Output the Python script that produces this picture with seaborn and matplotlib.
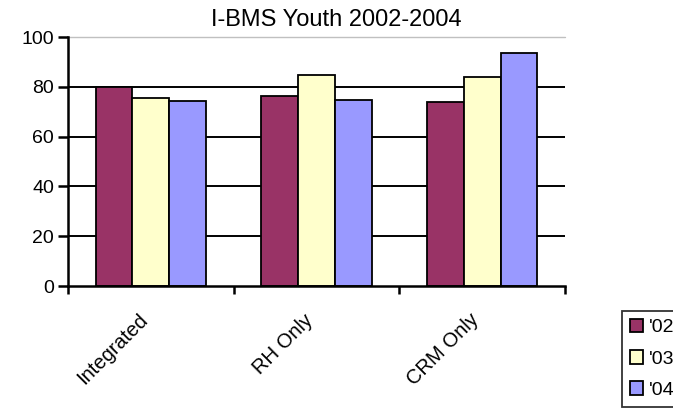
import matplotlib
matplotlib.use("Agg")
import matplotlib.pyplot as plt
import seaborn as sns
import pandas as pd

# Data
programs = ["Integrated", "RH Only", "CRM Only"]
years = ["'02", "'03", "'04"]
values_02 = [80.0, 76.3, 73.7]
values_03 = [75.7, 84.7, 84.0]
values_04 = [74.4, 74.8, 93.5]
y_ticks = [0, 20, 40, 60, 80, 100]
title = "I-BMS Youth 2002-2004"
colors = ["#993366", "#FFFFCC", "#9999FF"]

df = pd.DataFrame({
    "program": programs * 3,
    "year": [years[0]] * 3 + [years[1]] * 3 + [years[2]] * 3,
    "value": values_02 + values_03 + values_04,
})

sns.set_style("white")
plt.rcParams["font.family"] = ["Liberation Sans", "DejaVu Sans"]
plt.rcParams["text.color"] = "black"
plt.rcParams["xtick.color"] = "black"
plt.rcParams["ytick.color"] = "black"

fig = plt.figure(figsize=(6.73, 4.08), dpi=100)
ax = fig.add_axes([0.101, 0.299, 0.7385, 0.6103])

sns.barplot(data=df, x="program", y="value", hue="year", order=programs,
            hue_order=years, palette=colors, width=0.665, saturation=1,
            edgecolor="black", linewidth=1.3, errorbar=None, ax=ax,
            legend=False, zorder=3)

ax.set_xlim(-0.5, 2.5)
ax.set_ylim(0, 100)
ax.set_yticks(y_ticks)
ax.set_yticklabels([str(t) for t in y_ticks], fontsize=14)

# gridlines (top one lighter)
for t in y_ticks[1:-1]:
    ax.axhline(t, color="black", lw=1.4, zorder=1)
ax.axhline(100, color="#c0c0c0", lw=1.0, zorder=1, clip_on=False)

# group boundary ticks; slanted category labels hang just left of centre
ax.set_xticks([-0.5, 0.5, 1.5, 2.5])
ax.set_xticklabels([])
ax.set_xticks([i - 0.08 for i in range(len(programs))], minor=True)
ax.set_xticklabels(programs, minor=True, rotation=45, ha="right",
                   rotation_mode="anchor", fontsize=14.5)
ax.tick_params(axis="x", which="major", direction="out", length=6,
               width=1.8, color="black", bottom=True)
ax.tick_params(axis="x", which="minor", length=0, pad=17.5)
ax.tick_params(axis="y", direction="out", length=7, width=1.8,
               color="black", left=True, pad=3)
ax.set_xlabel("")
ax.set_ylabel("")

for side in ["top", "right"]:
    ax.spines[side].set_visible(False)
for side in ["left", "bottom"]:
    ax.spines[side].set_color("black")
    ax.spines[side].set_linewidth(1.8)
    ax.spines[side].set_zorder(4)

fig.text(0.5, 1 - 20 / 408, title, ha="center", va="center", fontsize=17,
         color="black")

handles = [plt.Rectangle((0, 0), 1, 1, facecolor=c, edgecolor="black", lw=1.3)
           for c in colors]
leg = fig.legend(handles, years, loc="upper left",
                 bbox_to_anchor=(622 / 673, 1 - 311 / 408), fontsize=14,
                 frameon=True, fancybox=False, handlelength=0.7,
                 handleheight=0.7, handletextpad=0.3, borderpad=0.4,
                 labelspacing=0.7, borderaxespad=0)
leg.get_frame().set_edgecolor("black")
leg.get_frame().set_linewidth(1.3)
for t in leg.get_texts():
    t.set_color("black")

fig.savefig("out.png", dpi=100)
